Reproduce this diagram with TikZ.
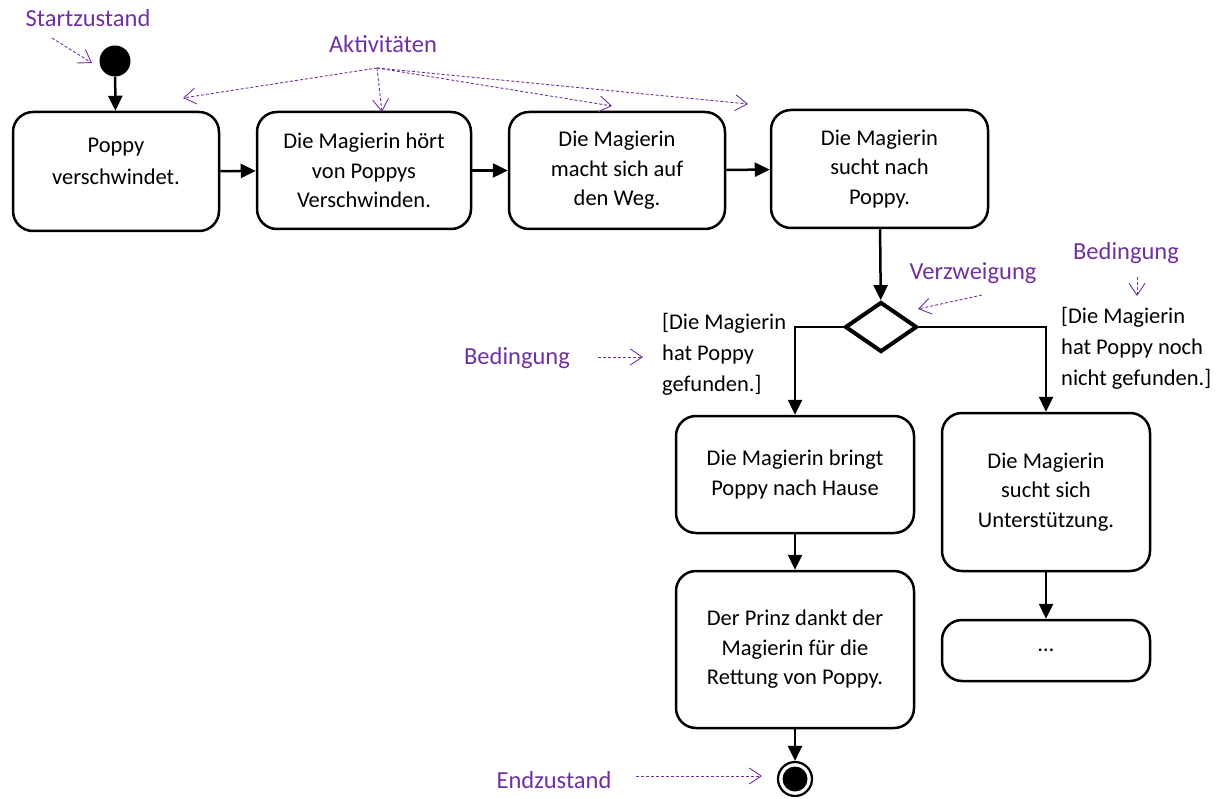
\documentclass[tikz,border=0pt]{standalone}
\usepackage{fontspec}
\setmainfont{Carlito}
\usepackage{xcolor}
\usepackage{tikz}
\usetikzlibrary{arrows.meta,positioning,calc,shapes.geometric}
\definecolor{ink}{HTML}{000000}
\definecolor{hintviolet}{HTML}{7030A0}
\tikzset{
  >=Triangle,
  every node/.style={text=ink},
  act/.style={draw=ink,line width=2.5pt,rounded corners=20pt,fill=white,align=center,inner sep=4pt,
    font=\fontsize{22.5}{29.5}\selectfont},
  flow/.style={-{Triangle[length=15pt,width=14pt]},line width=2.5pt,draw=ink},
  branchbox/.style={diamond,draw=ink,line width=4pt,aspect=1.44,minimum width=72pt,minimum height=50pt,inner sep=0pt},
  cond/.style={align=left,inner sep=0pt,font=\fontsize{22.5}{31}\selectfont},
  lbl/.style={text=hintviolet,inner sep=0pt,font=\fontsize{24.5}{28}\selectfont},
  hint/.style={-{Straight Barb[length=12pt,width=16pt]},line width=0.9pt,draw=hintviolet,dash pattern=on 3pt off 2pt}
}
\begin{document}
\begin{tikzpicture}[x=1pt,y=-1pt]
  \useasboundingbox (0,0) rectangle (1222,799);

  % start and the upper row
  \node[circle,fill=ink,minimum size=31pt,inner sep=0pt] (start) at (115,61) {};
  \node[act,minimum width=206pt,minimum height=119pt,font=\fontsize{22.5}{32}\selectfont] (poppy) at (116,171.5) {Poppy\\verschwindet.\\[-12pt]};
  \node[act,minimum width=214pt,minimum height=117pt] (hoert) at (364,170.5) {Die Magierin h\"ort\\von Poppys\\Verschwinden.};
  \node[act,minimum width=216pt,minimum height=117pt] (weg) at (617,170.5) {Die Magierin\\macht sich auf\\den Weg.};
  \node[act,minimum width=217pt,minimum height=118pt] (sucht) at (879.5,169) {Die Magierin\\sucht nach\\Poppy.};

  % branch
  \node[branchbox] (branch) at (881,327) {};
  \node[act,minimum width=238pt,minimum height=117pt] (bringt) at (795,474.5) {Die Magierin bringt\\Poppy nach Hause};
  \node[act,minimum width=208pt,minimum height=158pt] (hilfe) at (1046,492) {Die Magierin\\sucht sich\\Unterst\"utzung.};
  \node[act,minimum width=238pt,minimum height=157pt] (dank) at (795,649.5) {Der Prinz dankt der\\Magierin f\"ur die\\Rettung von Poppy.};
  \node[act,minimum width=208pt,minimum height=61pt] (weiter) at (1046,650.5) {\dots};
  \node[circle,draw=ink,line width=2.2pt,minimum size=34pt,inner sep=0pt,
    path picture={\fill[ink] (path picture bounding box.center) circle (12.5pt);}] (ende) at (795,779) {};

  % guards
  \node[cond,anchor=north west] (guardyes) at (662,313) {[Die Magierin\\hat Poppy\\gefunden.]};
  \node[cond,anchor=north west] (guardno) at (1061,307) {[Die Magierin\\hat Poppy noch\\nicht gefunden.]};

  \draw[flow] (start) -- (poppy);
  \draw[flow] (poppy) -- (hoert);
  \draw[flow] (hoert) -- (weg);
  \draw[flow] (weg) -- (sucht);
  \draw[flow] (sucht) -- (branch);
  \draw[flow] (branch.west) -| (bringt.north);
  \draw[flow] (branch.east) -| (hilfe.north);
  \draw[flow] (bringt) -- (dank);
  \draw[flow] (hilfe) -- (weiter);
  \draw[flow] (dank) -- (ende);

  % annotations
  \node[lbl] (lblstart) at (88,18) {Startzustand};
  \node[lbl] (lblakt) at (383,44) {Aktivit\"aten};
  \node[lbl] (lblverz) at (973,273) {Verzweigung};
  \node[lbl] (lblbedr) at (1126,253) {Bedingung};
  \node[lbl] (lblbedl) at (517,358) {Bedingung};
  \node[lbl] (lblende) at (554,780) {Endzustand};

  \coordinate (a0) at (377,68);
  \coordinate (a1) at (183,98);
  \coordinate (a2) at (382,112);
  \coordinate (a3) at (612,106);
  \coordinate (a4) at (748,104);
  \coordinate (s0) at (52,38);
  \coordinate (s1) at (92,63);
  \coordinate (v0) at (982,295);
  \coordinate (v1) at (918,309);
  \coordinate (b0) at (1137,277);
  \coordinate (b1) at (1137,296);
  \coordinate (c0) at (598,357);
  \coordinate (c1) at (643,357);
  \coordinate (e0) at (636,776);
  \coordinate (e1) at (762,776);

  \draw[hint] (s0) -- (s1);
  \draw[hint] (a0) -- (a1);
  \draw[hint] (a0) -- (a2);
  \draw[hint] (a0) -- (a3);
  \draw[hint] (a0) -- (a4);
  \draw[hint] (v0) -- (v1);
  \draw[hint] (b0) -- (b1);
  \draw[hint] (c0) -- (c1);
  \draw[hint] (e0) -- (e1);
\end{tikzpicture}
\end{document}
